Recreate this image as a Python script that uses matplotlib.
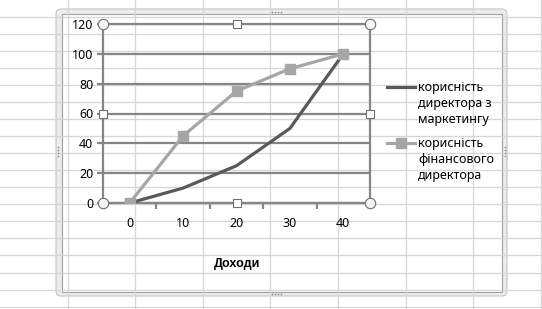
import matplotlib.pyplot as plt
from matplotlib.patches import FancyBboxPatch, Rectangle

plt.rcParams['font.family'] = ['Noto Sans', 'DejaVu Sans']

categories = ['0', '10', '20', '30', '40']
marketing = [0, 10, 25, 50, 100]
finance = [0, 45, 75, 90, 100]
series_names = ['корисність\nдиректора з\nмаркетингу', 'корисність\nфінансового\nдиректора']
x_title = 'Доходи'
y_ticks = [0, 20, 40, 60, 80, 100, 120]

W, H = 542, 309
dark = '#595959'
light = '#a6a6a6'
grid_col = '#868686'

fig = plt.figure(figsize=(W / 100, H / 100), dpi=100)

# spreadsheet background (pixel coordinates)
bg = fig.add_axes([0, 0, 1, 1], zorder=0)
bg.set_xlim(0, W)
bg.set_ylim(H, 0)
bg.axis('off')
for k in range(1, 9):
    bg.axvline(67.6 * k, color='#d6d6d6', lw=0.9)
for k in range(1, 19):
    bg.axhline(17.05 * k - 0.3, color='#d6d6d6', lw=0.9)

# chart frame (selected)
bg.add_patch(FancyBboxPatch((56, 9), 451, 287, boxstyle='round,pad=0,rounding_size=5',
                            facecolor='#ececec', edgecolor='#c4c4c4', lw=0.8))
bg.add_patch(Rectangle((62, 14), 440, 278, facecolor='white', edgecolor='#a0a0a0', lw=0.8))

# plot area
ax = fig.add_axes([103 / W, 1 - 203 / H, 267 / W, 179 / H], zorder=1)
ax.set_facecolor('none')
xs = list(range(len(categories)))
ax.plot(xs, marketing, color=dark, lw=2.3, solid_capstyle='round', zorder=3)
ax.plot(xs, finance, color=light, lw=2.3, marker='s', markersize=7.5,
        markeredgecolor=light, zorder=4)
ax.set_xlim(-0.5, len(categories) - 0.5)
ax.set_ylim(0, 120)
ax.set_yticks(y_ticks)
ax.set_xticks(xs)
ax.set_xticklabels(categories)
ax.set_xticks([i + 0.5 for i in xs[:-1]], minor=True)
ax.yaxis.grid(True, color=grid_col, lw=1.6)
ax.set_axisbelow(True)
for s in ax.spines.values():
    s.set_color(grid_col)
    s.set_linewidth(1.6)
ax.tick_params(axis='y', length=4, width=1.6, color=grid_col, pad=3, labelsize=9)
ax.tick_params(axis='x', which='major', length=0, pad=10, labelsize=9)
ax.tick_params(axis='x', which='minor', length=4, width=1.6, color=grid_col)

# overlay: selection handles, title, legend
ov = fig.add_axes([0, 0, 1, 1], zorder=2)
ov.set_xlim(0, W)
ov.set_ylim(H, 0)
ov.axis('off')
ov.patch.set_alpha(0)
for (hx, hy) in [(103, 24), (370, 24), (103, 203), (370, 203)]:
    ov.plot(hx, hy, 'o', ms=7.5, mfc='#f4f4f4', mec='#707070', mew=0.8)
for (hx, hy) in [(237, 24), (103, 114), (370, 114), (237, 203)]:
    ov.plot(hx, hy, 's', ms=6, mfc='white', mec='#707070', mew=0.8)
for i in range(4):
    ov.plot(272 + 3 * i, 12, 's', ms=1.0, color='#808080', mew=0)
    ov.plot(272 + 3 * i, 294, 's', ms=1.0, color='#808080', mew=0)
    ov.plot(58, 147 + 3 * i, 's', ms=1.0, color='#808080', mew=0)
    ov.plot(505, 147 + 3 * i, 's', ms=1.0, color='#808080', mew=0)

ov.text(237, 264, x_title, ha='center', va='center', fontsize=9,
        fontweight='bold', family=['Liberation Sans', 'DejaVu Sans'])

ov.plot([387, 415], [87, 87], color=dark, lw=2.3)
ov.plot([387, 415], [143, 143], color=light, lw=2.3)
ov.plot(401, 143, 's', ms=7.5, color=light)
for name, y0 in zip(series_names, [87, 143]):
    for j, line in enumerate(name.split('\n')):
        ov.text(418, y0 + 16 * j, line, ha='left', va='center', fontsize=9)

fig.savefig('out.png', dpi=100)
